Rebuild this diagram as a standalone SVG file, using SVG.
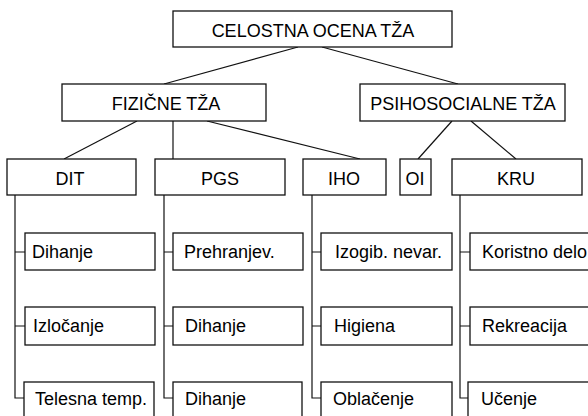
<svg xmlns="http://www.w3.org/2000/svg" width="588" height="416" viewBox="0 0 588 416">
<style>
rect{fill:#fff;stroke:#111;stroke-width:1.3}
.c line,.c path{stroke:#111;stroke-width:1.2;fill:none}
text{font-family:"Liberation Sans",Arial,sans-serif;font-size:18px;fill:#000}
.m{text-anchor:middle}
</style>
<rect x="0" y="0" width="588" height="416" style="fill:#fff;stroke:none"/>
<g class="c" id="connectors">
<line x1="298" y1="47" x2="164" y2="84"/>
<line x1="322" y1="47" x2="458" y2="84"/>
<line x1="137" y1="121" x2="64" y2="159"/>
<line x1="173" y1="121" x2="173" y2="159"/>
<line x1="207" y1="121" x2="360" y2="159"/>
<line x1="452" y1="121" x2="418" y2="159"/>
<line x1="471" y1="121" x2="516" y2="159"/>
<path d="M15 195V398H25M15 252H25M15 326H25"/>
<path d="M164 195V398H173M164 252H173M164 326H173"/>
<path d="M312 195V398H321M312 252H321M312 326H321"/>
<path d="M460 195V398H470M460 252H470M460 326H470"/>
</g>
<g id="n-root"><rect x="173" y="11" width="279" height="36"/><text class="m" x="313" y="37">CELOSTNA OCENA TŽA</text></g>
<g id="n-fiz"><rect x="62" y="84" width="204" height="37"/><text class="m" x="166" y="110">FIZIČNE TŽA</text></g>
<g id="n-psi"><rect x="360" y="84" width="205" height="37"/><text class="m" x="463" y="110">PSIHOSOCIALNE TŽA</text></g>
<g id="n-dit"><rect x="7" y="159" width="129" height="36"/><text class="m" x="70" y="185">DIT</text></g>
<g id="n-pgs"><rect x="155" y="159" width="130" height="36"/><text class="m" x="220" y="185">PGS</text></g>
<g id="n-iho"><rect x="303" y="159" width="83" height="36"/><text class="m" x="344" y="185">IHO</text></g>
<g id="n-oi"><rect x="400" y="159" width="31" height="36"/><text class="m" x="415" y="185">OI</text></g>
<g id="n-kru"><rect x="452" y="159" width="130" height="36"/><text class="m" x="516" y="185">KRU</text></g>
<g id="n-dit1"><rect x="25" y="233" width="130" height="37"/><text x="32" y="258">Dihanje</text></g>
<g id="n-dit2"><rect x="25" y="307" width="130" height="38"/><text x="33" y="332">Izločanje</text></g>
<g id="n-dit3"><rect x="24" y="382" width="130" height="40"/><text x="35" y="405">Telesna temp.</text></g>
<g id="n-pgs1"><rect x="173" y="233" width="130" height="37"/><text x="184" y="258">Prehranjev.</text></g>
<g id="n-pgs2"><rect x="173" y="307" width="130" height="38"/><text x="185" y="332">Dihanje</text></g>
<g id="n-pgs3"><rect x="173" y="382" width="129" height="40"/><text x="185" y="405">Dihanje</text></g>
<g id="n-iho1"><rect x="321" y="233" width="131" height="37"/><text x="335" y="258">Izogib. nevar.</text></g>
<g id="n-iho2"><rect x="321" y="307" width="131" height="38"/><text x="334" y="332">Higiena</text></g>
<g id="n-iho3"><rect x="321" y="382" width="131" height="40"/><text x="333" y="405">Oblačenje</text></g>
<g id="n-kru1"><rect x="470" y="233" width="125" height="37"/><text x="482" y="258">Koristno delo</text></g>
<g id="n-kru2"><rect x="470" y="307" width="125" height="38"/><text x="482" y="332">Rekreacija</text></g>
<g id="n-kru3"><rect x="468" y="382" width="127" height="40"/><text x="481" y="405">Učenje</text></g>
</svg>
